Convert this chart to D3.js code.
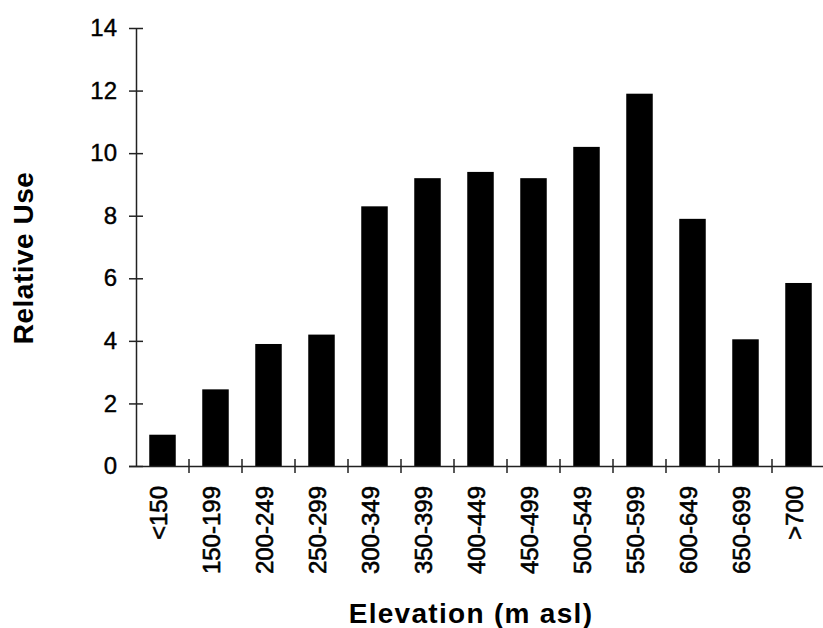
<!DOCTYPE html>
<html>
<head>
<meta charset="utf-8">
<script src="https://cdn.jsdelivr.net/npm/d3@7"></script>
<style>
  body { margin: 0; background: #fff; }
  text { font-family: "Liberation Sans", Arial, sans-serif; fill: #000; }
</style>
</head>
<body>
<div class="chart"></div>
<script>
// elevation classes and relative use
const categories = ["<150", "150-199", "200-249", "250-299", "300-349", "350-399", "400-449",
    "450-499", "500-549", "550-599", "600-649", "650-699", ">700"];
const relUse = [1.0, 2.45, 3.9, 4.2, 8.3, 9.2, 9.4, 9.2, 10.2, 11.9, 7.9, 4.05, 5.85];
const yTicks = [0, 2, 4, 6, 8, 10, 12, 14];

const W = 823, H = 628;
const margin = {top: 28, left: 136, right: -2, bottom: 162};
const width = W - margin.left - margin.right,
    height = H - margin.top - margin.bottom;

const data = categories.map((c, i) => ({cat: c, val: relUse[i]}));

const svg = d3.select('.chart').append('svg')
    .attr("width", W)
    .attr("height", H)
    .append("g")
    .attr("transform", "translate(" + margin.left + "," + margin.top + ")");

const xScale = d3.scaleBand()
    .domain(categories)
    .range([0, width])
    .paddingInner(0.5)
    .paddingOuter(0.25);

const yScale = d3.scaleLinear()
    .domain([0, 14])
    .range([height, 0]);

svg.selectAll("rect.bar")
    .data(data)
    .enter()
    .append("rect")
    .attr("class", "bar")
    .attr("x", d => xScale(d.cat))
    .attr("y", d => yScale(d.val))
    .attr("width", xScale.bandwidth())
    .attr("height", d => yScale(0) - yScale(d.val))
    .attr("fill", "#000");

// x axis: labels centred on bars, ticks on the boundaries
const xAxis = d3.axisBottom(xScale).tickSizeOuter(0).tickSize(0).tickPadding(0);
const gx = svg.append("g")
    .attr("class", "axis x-axis")
    .attr("transform", `translate(0, ${height})`)
    .call(xAxis);

gx.select(".domain").attr("stroke", "#222").attr("stroke-width", 1.5)
    .attr("d", `M-7,0.5H${width}`);

gx.selectAll(".tick line")
    .attr("x1", xScale.step() / 2).attr("x2", xScale.step() / 2)
    .attr("y1", -7).attr("y2", 7)
    .attr("stroke", "#222").attr("stroke-width", 1.5);

gx.selectAll(".tick text")
    .attr("transform", "rotate(-90)")
    .attr("x", -20)
    .attr("y", 0)
    .attr("dy", "0.2em")
    .attr("text-anchor", "end")
    .attr("font-size", 24)
    .attr("stroke", "#000")
    .attr("stroke-width", 0.6);

// y axis with ticks crossing the line
const yAxis = d3.axisLeft(yScale).tickValues(yTicks).tickSize(7).tickPadding(12).tickSizeOuter(0);
const gy = svg.append("g")
    .attr("class", "axis y-axis")
    .call(yAxis);

gy.select(".domain").attr("stroke", "#222").attr("stroke-width", 1.5);
gy.selectAll(".tick line").attr("x1", 7).attr("stroke", "#222").attr("stroke-width", 1.5);
gy.selectAll(".tick text").attr("font-size", 24)
    .attr("stroke", "#000").attr("stroke-width", 0.4);

svg.append("text")
    .attr("transform", `translate(${33 - margin.left}, ${258 - margin.top}) rotate(-90)`)
    .attr("text-anchor", "middle")
    .attr("font-size", 28)
    .attr("font-weight", "bold")
    .attr("letter-spacing", 0.5)
    .text("Relative Use");

svg.append("text")
    .attr("x", 471 - margin.left)
    .attr("y", 623 - margin.top)
    .attr("text-anchor", "middle")
    .attr("font-size", 28)
    .attr("font-weight", "bold")
    .attr("letter-spacing", 1.3)
    .text("Elevation (m asl)");
</script>
</body>
</html>
